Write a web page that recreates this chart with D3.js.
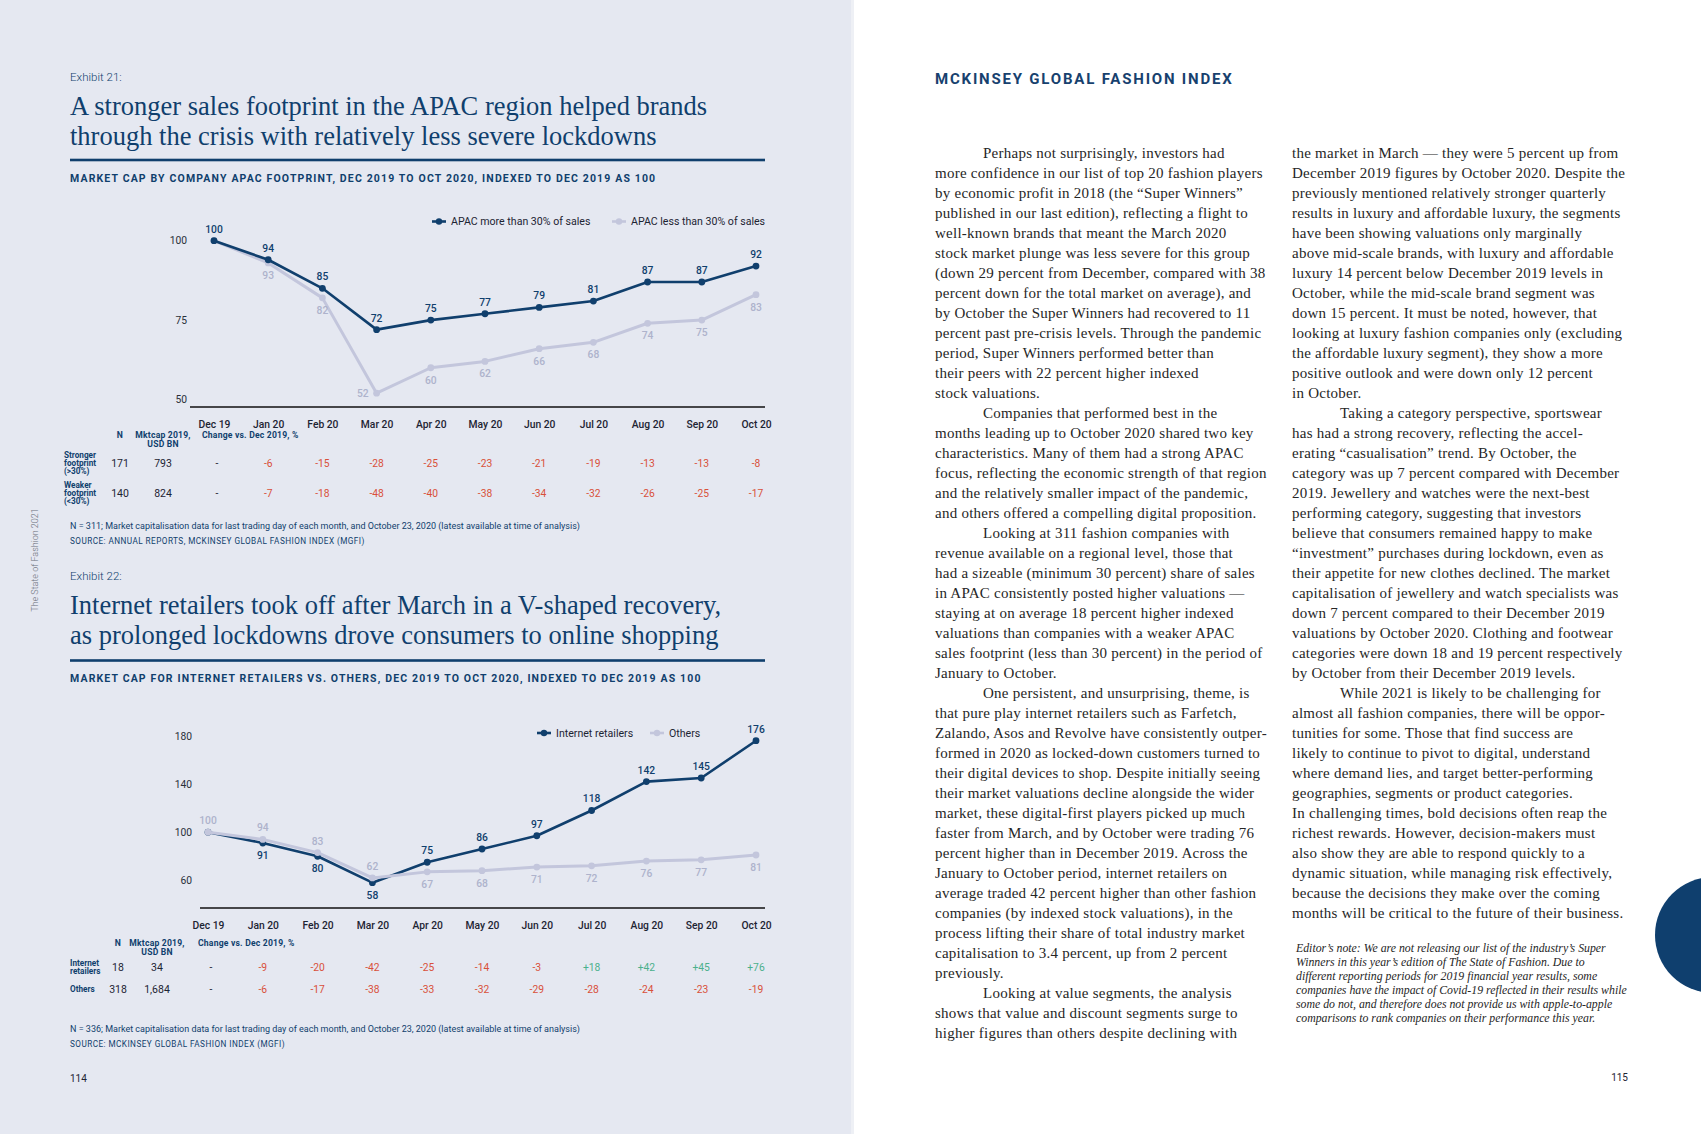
<html>
<head>
<meta charset="utf-8">
<script src="https://d3js.org/d3.v7.min.js"></script>
<style>
body { margin: 0; background: #fff; }
svg { display: block; }
.sans { font-family: Roboto, "Noto Sans", sans-serif; }
.serif { font-family: "Liberation Serif", "DejaVu Serif", serif; }
</style>
</head>
<body>
<div id="page"></div>
<script>
// ---- data ----
var months = ["Dec 19", "Jan 20", "Feb 20", "Mar 20", "Apr 20", "May 20", "Jun 20", "Jul 20", "Aug 20", "Sep 20", "Oct 20"];

var apacStrong = [100, 94, 85, 72, 75, 77, 79, 81, 87, 87, 92];
var apacWeak = [100, 93, 82, 52, 60, 62, 66, 68, 74, 75, 83];
var internetRetail = [100, 91, 80, 58, 75, 86, 97, 118, 142, 145, 176];
var otherRetail = [100, 94, 83, 62, 67, 68, 71, 72, 76, 77, 81];

var ticks1 = [50, 75, 100];
var ticks2 = [60, 100, 140, 180];

var rowLabels1 = [["Stronger", "footprint", "(>30%)"], ["Weaker", "footprint", "(<30%)"]];
var rowN1 = ["171", "140"];
var rowCap1 = ["793", "824"];
var change1 = [
  ["-", "-6", "-15", "-28", "-25", "-23", "-21", "-19", "-13", "-13", "-8"],
  ["-", "-7", "-18", "-48", "-40", "-38", "-34", "-32", "-26", "-25", "-17"]
];

var rowLabels2 = [["Internet", "retailers"], ["Others"]];
var rowN2 = ["18", "318"];
var rowCap2 = ["34", "1,684"];
var change2 = [
  ["-", "-9", "-20", "-42", "-25", "-14", "-3", "+18", "+42", "+45", "+76"],
  ["-", "-6", "-17", "-38", "-33", "-32", "-29", "-28", "-24", "-23", "-19"]
];

var col1Lines = [
  "\tPerhaps not surprisingly, investors had",
  "more confidence in our list of top 20 fashion players",
  "by economic profit in 2018 (the \u201cSuper Winners\u201d",
  "published in our last edition), reflecting a flight to",
  "well-known brands that meant the March 2020",
  "stock market plunge was less severe for this group",
  "(down 29 percent from December, compared with 38",
  "percent down for the total market on average), and",
  "by October the Super Winners had recovered to 11",
  "percent past pre-crisis levels. Through the pandemic",
  "period, Super Winners performed better than",
  "their peers with 22 percent higher indexed",
  "stock valuations.",
  "\tCompanies that performed best in the",
  "months leading up to October 2020 shared two key",
  "characteristics. Many of them had a strong APAC",
  "focus, reflecting the economic strength of that region",
  "and the relatively smaller impact of the pandemic,",
  "and others offered a compelling digital proposition.",
  "\tLooking at 311 fashion companies with",
  "revenue available on a regional level, those that",
  "had a sizeable (minimum 30 percent) share of sales",
  "in APAC consistently posted higher valuations \u2014",
  "staying at on average 18 percent higher indexed",
  "valuations than companies with a weaker APAC",
  "sales footprint (less than 30 percent) in the period of",
  "January to October.",
  "\tOne persistent, and unsurprising, theme, is",
  "that pure play internet retailers such as Farfetch,",
  "Zalando, Asos and Revolve have consistently outper-",
  "formed in 2020 as locked-down customers turned to",
  "their digital devices to shop. Despite initially seeing",
  "their market valuations decline alongside the wider",
  "market, these digital-first players picked up much",
  "faster from March, and by October were trading 76",
  "percent higher than in December 2019. Across the",
  "January to October period, internet retailers on",
  "average traded 42 percent higher than other fashion",
  "companies (by indexed stock valuations), in the",
  "process lifting their share of total industry market",
  "capitalisation to 3.4 percent, up from 2 percent",
  "previously.",
  "\tLooking at value segments, the analysis",
  "shows that value and discount segments surge to",
  "higher figures than others despite declining with"
];

var col2Lines = [
  "the market in March \u2014 they were 5 percent up from",
  "December 2019 figures by October 2020. Despite the",
  "previously mentioned relatively stronger quarterly",
  "results in luxury and affordable luxury, the segments",
  "have been showing valuations only marginally",
  "above mid-scale brands, with luxury and affordable",
  "luxury 14 percent below December 2019 levels in",
  "October, while the mid-scale brand segment was",
  "down 15 percent. It must be noted, however, that",
  "looking at luxury fashion companies only (excluding",
  "the affordable luxury segment), they show a more",
  "positive outlook and were down only 12 percent",
  "in October.",
  "\tTaking a category perspective, sportswear",
  "has had a strong recovery, reflecting the accel-",
  "erating \u201ccasualisation\u201d trend. By October, the",
  "category was up 7 percent compared with December",
  "2019. Jewellery and watches were the next-best",
  "performing category, suggesting that investors",
  "believe that consumers remained happy to make",
  "\u201cinvestment\u201d purchases during lockdown, even as",
  "their appetite for new clothes declined. The market",
  "capitalisation of jewellery and watch specialists was",
  "down 7 percent compared to their December 2019",
  "valuations by October 2020. Clothing and footwear",
  "categories were down 18 and 19 percent respectively",
  "by October from their December 2019 levels.",
  "\tWhile 2021 is likely to be challenging for",
  "almost all fashion companies, there will be oppor-",
  "tunities for some. Those that find success are",
  "likely to continue to pivot to digital, understand",
  "where demand lies, and target better-performing",
  "geographies, segments or product categories.",
  "In challenging times, bold decisions often reap the",
  "richest rewards. However, decision-makers must",
  "also show they are able to respond quickly to a",
  "dynamic situation, while managing risk effectively,",
  "because the decisions they make over the coming",
  "months will be critical to the future of their business."
];

var noteLines = [
  "Editor\u2019s note: We are not releasing our list of the industry\u2019s Super",
  "Winners in this year\u2019s edition of The State of Fashion. Due to",
  "different reporting periods for 2019 financial year results, some",
  "companies have the impact of Covid-19 reflected in their results while",
  "some do not, and therefore does not provide us with apple-to-apple",
  "comparisons to rank companies on their performance this year."
];

// ---- page ----
var W = 1701, H = 1134;
var navy = "#103f6d";
var lilac = "#c3c6dc";
var lilacText = "#aeb3cc";
var red = "#d9503a";
var green = "#4bb08c";

var svg = d3.select("#page").append("svg")
  .attr("width", W).attr("height", H);

svg.append("rect").attr("x", 0).attr("y", 0).attr("width", 851).attr("height", H).attr("fill", "#e5e8f1");
svg.append("rect").attr("x", 851).attr("y", 0).attr("width", 3).attr("height", H).attr("fill", "#eef0f5");

// side label
svg.append("text").attr("class", "sans")
  .attr("transform", "translate(38,560) rotate(-90)")
  .attr("text-anchor", "middle")
  .attr("font-size", 9).attr("font-weight", 300).attr("fill", "#6b6f7a")
  .text("The State of Fashion 2021");

function header(cfg) {
  svg.append("text").attr("class", "sans")
    .attr("x", 70).attr("y", cfg.exY)
    .attr("font-size", 11.5).attr("font-weight", 300).attr("fill", navy)
    .text(cfg.exhibit);
  cfg.title.forEach(function(t, i) {
    svg.append("text").attr("class", "serif")
      .attr("x", 70).attr("y", cfg.titleY + i * 30)
      .attr("font-size", 26.5).attr("fill", navy)
      .text(t);
  });
  svg.append("rect").attr("x", 70).attr("y", cfg.ruleY - 1.3)
    .attr("width", 695).attr("height", 2.6).attr("fill", navy);
  svg.append("text").attr("class", "sans")
    .attr("x", 70).attr("y", cfg.subY)
    .attr("font-size", 10.5).attr("font-weight", 700).attr("letter-spacing", 1.15).attr("fill", navy)
    .text(cfg.subtitle);
}

function chart(cfg) {
  var g = svg.append("g");
  var x = d3.scalePoint().domain(months).range(cfg.xRange);
  var y = d3.scaleLinear().domain(cfg.yDomain).range(cfg.yRange);

  // baseline
  g.append("line")
    .attr("x1", cfg.baseX[0]).attr("x2", cfg.baseX[1])
    .attr("y1", cfg.baseY).attr("y2", cfg.baseY)
    .attr("stroke", "#111").attr("stroke-width", 1.4);

  var xAxis = g.append("g")
    .attr("transform", "translate(0," + cfg.baseY + ")")
    .call(d3.axisBottom(x).tickSize(0).tickPadding(cfg.xPad));
  xAxis.select(".domain").remove();
  xAxis.selectAll("text").attr("font-family", "Roboto, sans-serif")
    .attr("font-size", 10.3).attr("font-weight", 500).attr("fill", "#1d2433");

  var yAxis = g.append("g")
    .attr("transform", "translate(" + cfg.yAxisX + ",0)")
    .call(d3.axisLeft(y).tickValues(cfg.ticks).tickSize(0).tickPadding(0));
  yAxis.select(".domain").remove();
  yAxis.selectAll("text").attr("font-family", "Roboto, sans-serif")
    .attr("font-size", 10.3).attr("fill", "#2a2f3a");

  var line = d3.line().x(function(d, i) { return x(months[i]); }).y(function(d) { return y(d); });

  var light = { values: cfg.light, other: cfg.dark, stroke: lilac, text: lilacText, w: 3, key: "light" };
  var dark = { values: cfg.dark, other: cfg.light, stroke: navy, text: navy, w: 2.6, key: "dark" };
  var series = cfg.lightOnTop ? [dark, light] : [light, dark];

  series.forEach(function(s) {
    g.append("path").datum(s.values)
      .attr("d", line).attr("fill", "none")
      .attr("stroke", s.stroke).attr("stroke-width", s.w)
      .attr("stroke-linejoin", "round");
    g.selectAll(null).data(s.values).enter().append("circle")
      .attr("cx", function(d, i) { return x(months[i]); })
      .attr("cy", function(d) { return y(d); })
      .attr("r", 3.4).attr("fill", s.stroke);
  });

  // label placement: above if the series is on top, below otherwise,
  // and to the left if "below" would run into the x axis
  function place(s, i) {
    var v = s.values[i], px = x(months[i]), py = y(v);
    if (v >= s.other[i]) return { x: px, y: py - 8, anchor: "middle" };
    if (py + 16 > cfg.baseY - 3) return { x: px - 8, y: py + 4, anchor: "end" };
    return { x: px, y: py + 16, anchor: "middle" };
  }

  series.forEach(function(s) {
    var idx = d3.range(s.values.length).filter(function(i) { return i > 0 || cfg.firstLabel === s.key; });
    g.selectAll(null).data(idx).enter()
      .append("text").attr("class", "sans")
      .attr("x", function(i) { return place(s, i).x; })
      .attr("y", function(i) { return place(s, i).y; })
      .attr("text-anchor", function(i) { return place(s, i).anchor; })
      .attr("font-size", 10.3).attr("font-weight", 500).attr("fill", s.text)
      .text(function(i) { return s.values[i]; });
  });

  // legend
  cfg.legend.forEach(function(l, i) {
    var lx = cfg.legendX[i];
    var col = i === 0 ? navy : lilac;
    g.append("line").attr("x1", lx).attr("x2", lx + 14)
      .attr("y1", cfg.legendY).attr("y2", cfg.legendY)
      .attr("stroke", col).attr("stroke-width", 2.6);
    g.append("circle").attr("cx", lx + 7).attr("cy", cfg.legendY).attr("r", 3.2).attr("fill", col);
    g.append("text").attr("class", "sans")
      .attr("x", lx + 19).attr("y", cfg.legendY + 3.6)
      .attr("font-size", 10.6).attr("fill", "#1d2433")
      .text(l);
  });

  // table
  var t = cfg.table;
  var hdr = g.append("g").attr("class", "sans").attr("font-size", 8.6).attr("font-weight", 700)
    .attr("letter-spacing", 0.2).attr("fill", navy);
  hdr.append("text").attr("x", t.nX).attr("y", t.headY).attr("text-anchor", "middle").text("N");
  hdr.append("text").attr("x", t.capX).attr("y", t.headY).attr("text-anchor", "middle").text("Mktcap 2019,");
  hdr.append("text").attr("x", t.capX).attr("y", t.headY + 8.5).attr("text-anchor", "middle").text("USD BN");
  hdr.append("text").attr("x", t.changeX).attr("y", t.headY).text("Change vs. Dec 2019, %");

  t.labels.forEach(function(lab, r) {
    var ry = t.rowY[r];
    var n = lab.length;
    lab.forEach(function(s, k) {
      g.append("text").attr("class", "sans")
        .attr("x", t.labelX).attr("y", ry + (k - (n - 1) / 2) * 7.7 + 3)
        .attr("font-size", 8.2).attr("font-weight", 700).attr("fill", navy)
        .text(s);
    });
    g.append("text").attr("class", "sans")
      .attr("x", t.nX).attr("y", ry + 3.8).attr("text-anchor", "middle")
      .attr("font-size", 10.5).attr("fill", "#1d2433").text(t.n[r]);
    g.append("text").attr("class", "sans")
      .attr("x", t.capX).attr("y", ry + 3.8).attr("text-anchor", "middle")
      .attr("font-size", 10.5).attr("fill", "#1d2433").text(t.cap[r]);
    g.selectAll(null).data(t.change[r]).enter().append("text").attr("class", "sans")
      .attr("x", function(d, i) { return x(months[i]) + (i === 0 ? 3 : 0); })
      .attr("y", ry + 3.8).attr("text-anchor", "middle")
      .attr("font-size", 10.3)
      .attr("fill", function(d) { return d === "-" ? "#1d2433" : (d.charAt(0) === "+" ? green : red); })
      .text(function(d) { return d; });
  });

  // notes
  g.append("text").attr("class", "sans")
    .attr("x", 70).attr("y", cfg.noteY)
    .attr("font-size", 9).attr("fill", navy).text(cfg.note);
  g.append("text").attr("class", "sans")
    .attr("x", 70).attr("y", cfg.noteY + 14.5)
    .attr("font-size", 8.2).attr("letter-spacing", 0.45).attr("fill", navy).text(cfg.source);
}

header({
  exhibit: "Exhibit 21:", exY: 80.5,
  title: ["A stronger sales footprint in the APAC region helped brands",
          "through the crisis with relatively less severe lockdowns"],
  titleY: 115, ruleY: 160, subY: 181.5,
  subtitle: "MARKET CAP BY COMPANY APAC FOOTPRINT, DEC 2019 TO OCT 2020, INDEXED TO DEC 2019 AS 100"
});

chart({
  xRange: [214, 756], yDomain: [50, 100], yRange: [399.5, 240.7],
  baseX: [190, 765], baseY: 407, xPad: 14, yAxisX: 187, ticks: ticks1,
  dark: apacStrong, light: apacWeak, firstLabel: "dark", lightOnTop: false,
  legend: ["APAC more than 30% of sales", "APAC less than 30% of sales"],
  legendX: [432, 612], legendY: 221.5,
  table: {
    labels: rowLabels1, n: rowN1, cap: rowCap1, change: change1,
    nX: 120, capX: 163, changeX: 202, labelX: 64, headY: 438, rowY: [463, 493]
  },
  noteY: 529,
  note: "N = 311; Market capitalisation data for last trading day of each month, and October 23, 2020 (latest available at time of analysis)",
  source: "SOURCE: ANNUAL REPORTS, MCKINSEY GLOBAL FASHION INDEX (MGFI)"
});

header({
  exhibit: "Exhibit 22:", exY: 580,
  title: ["Internet retailers took off after March in a V-shaped recovery,",
          "as prolonged lockdowns drove consumers to online shopping"],
  titleY: 614, ruleY: 660.5, subY: 681.5,
  subtitle: "MARKET CAP FOR INTERNET RETAILERS VS. OTHERS, DEC 2019 TO OCT 2020, INDEXED TO DEC 2019 AS 100"
});

chart({
  xRange: [208, 756], yDomain: [58, 176], yRange: [882.7, 740.7],
  baseX: [200, 765], baseY: 908, xPad: 14, yAxisX: 192, ticks: ticks2,
  dark: internetRetail, light: otherRetail, firstLabel: "light", lightOnTop: true,
  legend: ["Internet retailers", "Others"],
  legendX: [537, 650], legendY: 733,
  table: {
    labels: rowLabels2, n: rowN2, cap: rowCap2, change: change2,
    nX: 118, capX: 157, changeX: 198, labelX: 70, headY: 946, rowY: [967, 989]
  },
  noteY: 1032,
  note: "N = 336; Market capitalisation data for last trading day of each month, and October 23, 2020 (latest available at time of analysis)",
  source: "SOURCE: MCKINSEY GLOBAL FASHION INDEX (MGFI)"
});

// page numbers
svg.append("text").attr("class", "sans").attr("x", 70).attr("y", 1082)
  .attr("font-size", 10).attr("fill", "#1d2433").text("114");
svg.append("text").attr("class", "sans").attr("x", 1628).attr("y", 1081)
  .attr("text-anchor", "end").attr("font-size", 10).attr("fill", "#1d2433").text("115");

// right page
svg.append("text").attr("class", "sans")
  .attr("x", 935).attr("y", 84)
  .attr("font-size", 15).attr("font-weight", 700).attr("letter-spacing", 1.8).attr("fill", "#17416e")
  .text("MCKINSEY GLOBAL FASHION INDEX");

function column(lines, x0) {
  svg.append("g").attr("class", "serif")
    .selectAll("text").data(lines).enter().append("text")
    .attr("x", function(d) { return d.charAt(0) === "\t" ? x0 + 48 : x0; })
    .attr("y", function(d, i) { return 158 + i * 20; })
    .attr("font-size", 15).attr("letter-spacing", 0.25).attr("fill", "#262626")
    .text(function(d) { return d.replace("\t", ""); });
}
column(col1Lines, 935);
column(col2Lines, 1292);

svg.append("g").attr("class", "serif")
  .selectAll("text").data(noteLines).enter().append("text")
  .attr("x", 1296).attr("y", function(d, i) { return 952 + i * 14; })
  .attr("font-size", 11.8).attr("font-style", "italic").attr("fill", "#262626")
  .text(function(d) { return d; });

svg.append("circle").attr("cx", 1713).attr("cy", 935).attr("r", 58).attr("fill", "#0f3f6e");
</script>
</body>
</html>
